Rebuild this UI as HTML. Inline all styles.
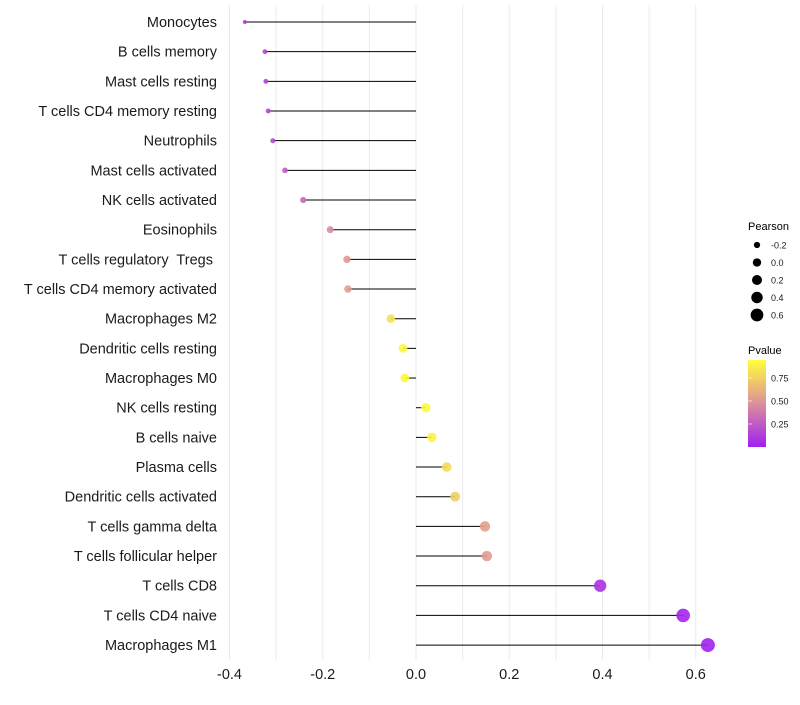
<!DOCTYPE html>
<html><head><meta charset="utf-8"><style>
body{margin:0;background:#fff;font-family:"Liberation Sans",sans-serif}
text{white-space:pre}
</style></head><body>
<svg id="chart" width="800" height="700" xmlns="http://www.w3.org/2000/svg">
<g id="grid"></g><g id="marks"></g><g id="ylabels"></g><g id="xlabels"></g><g id="legend"></g>
</svg>
<script>
const categories=["Monocytes","B cells memory","Mast cells resting","T cells CD4 memory resting","Neutrophils","Mast cells activated","NK cells activated","Eosinophils","T cells regulatory  Tregs ","T cells CD4 memory activated","Macrophages M2","Dendritic cells resting","Macrophages M0","NK cells resting","B cells naive","Plasma cells","Dendritic cells activated","T cells gamma delta","T cells follicular helper","T cells CD8","T cells CD4 naive","Macrophages M1"];
const pearson=[-0.367,-0.324,-0.322,-0.317,-0.307,-0.281,-0.242,-0.184,-0.148,-0.146,-0.054,-0.028,-0.024,0.021,0.034,0.066,0.084,0.148,0.152,0.395,0.573,0.626];
const pvalue=[0.12,0.16,0.16,0.17,0.19,0.26,0.32,0.46,0.52,0.53,0.82,0.92,0.92,0.93,0.9,0.8,0.74,0.54,0.52,0.08,0.02,0.01];
const xTicks=[-0.4,-0.2,0,0.2,0.4,0.6];
const sizeTicks=[-0.2,0,0.2,0.4,0.6];
const colorTicks=[0.25,0.5,0.75];
const NS="http://www.w3.org/2000/svg";
const x=v=>416+v*466.25;
const y=i=>22+i*29.67;
const r=v=>Math.sqrt(Math.max(1,4+45.3*(v+0.367)));
function col(p){
  const stops=[[0,[160,32,240]],[0.5,[224,150,150]],[0.95,[255,255,58]]];
  p=Math.max(0,Math.min(0.95,p));
  for(let k=0;k<stops.length-1;k++){const a=stops[k],b=stops[k+1];
    if(p<=b[0]){const t=(p-a[0])/(b[0]-a[0]);return "rgb("+a[1].map((c,j)=>Math.round(c+(b[1][j]-c)*t)).join(",")+")";}}
}
function mk(tag,attrs,parent){const e=document.createElementNS(NS,tag);for(const k in attrs)e.setAttribute(k,attrs[k]);parent.appendChild(e);return e;}
const grid=document.getElementById('grid'),marks=document.getElementById('marks'),yl=document.getElementById('ylabels'),xl=document.getElementById('xlabels'),lg=document.getElementById('legend');
for(let v=-0.4;v<=0.65;v+=0.1){const l=mk('line',{x1:x(v),x2:x(v),y1:5,y2:660,stroke:'#ebebeb','stroke-width':1},grid);

}
categories.forEach((c,i)=>{
  const ln=mk('line',{x1:x(0),x2:x(pearson[i]),y1:y(i),y2:y(i),stroke:'#000','stroke-width':1},marks);
  
  
  const pt=mk('circle',{cx:x(pearson[i]),cy:y(i),r:r(pearson[i]),fill:col(pvalue[i]),'fill-opacity':0.9},marks);
  
  
  const t=mk('text',{x:217,y:y(i)+5,'text-anchor':'end','font-size':14.5,fill:'#1a1a1a'},yl);t.textContent=c;
  
  
});
xTicks.forEach(v=>{const t=mk('text',{x:x(v),y:679,'text-anchor':'middle','font-size':14.5,fill:'#1a1a1a'},xl);t.textContent=(v===0?"0.0":v.toFixed(1));

});
let tt=mk('text',{x:748,y:230,'font-size':11,fill:'#000'},lg);tt.textContent="Pearson";


sizeTicks.forEach((v,k)=>{const cy=245+k*17.5;
 const c=mk('circle',{cx:757,cy:cy,r:r(v)*0.92,fill:'#000'},lg);
 
 
 const t=mk('text',{x:771,y:cy+3.5,'font-size':9,fill:'#1a1a1a'},lg);t.textContent=(v===0?"0.0":v.toFixed(1));
 
 });
tt=mk('text',{x:748,y:354,'font-size':11,fill:'#000'},lg);tt.textContent="Pvalue";


const defs=mk('defs',{},lg);const g=mk('linearGradient',{id:'pg',x1:0,y1:1,x2:0,y2:0},defs);
for(let s=0;s<=10;s++){mk('stop',{offset:s/10,'stop-color':col(s/10*0.945)},g);}
const bar=mk('rect',{x:748,y:360,width:18,height:87,fill:'url(#pg)'},lg);


colorTicks.forEach(v=>{const cy=447-v/0.945*87;
 const l=mk('line',{x1:748,x2:752,y1:cy,y2:cy,stroke:'#fff','stroke-opacity':0.6},lg);
 
 
 const t=mk('text',{x:771,y:cy+3.5,'font-size':9,fill:'#1a1a1a'},lg);t.textContent=v.toFixed(2);
 
 });
</script>
</body></html>
